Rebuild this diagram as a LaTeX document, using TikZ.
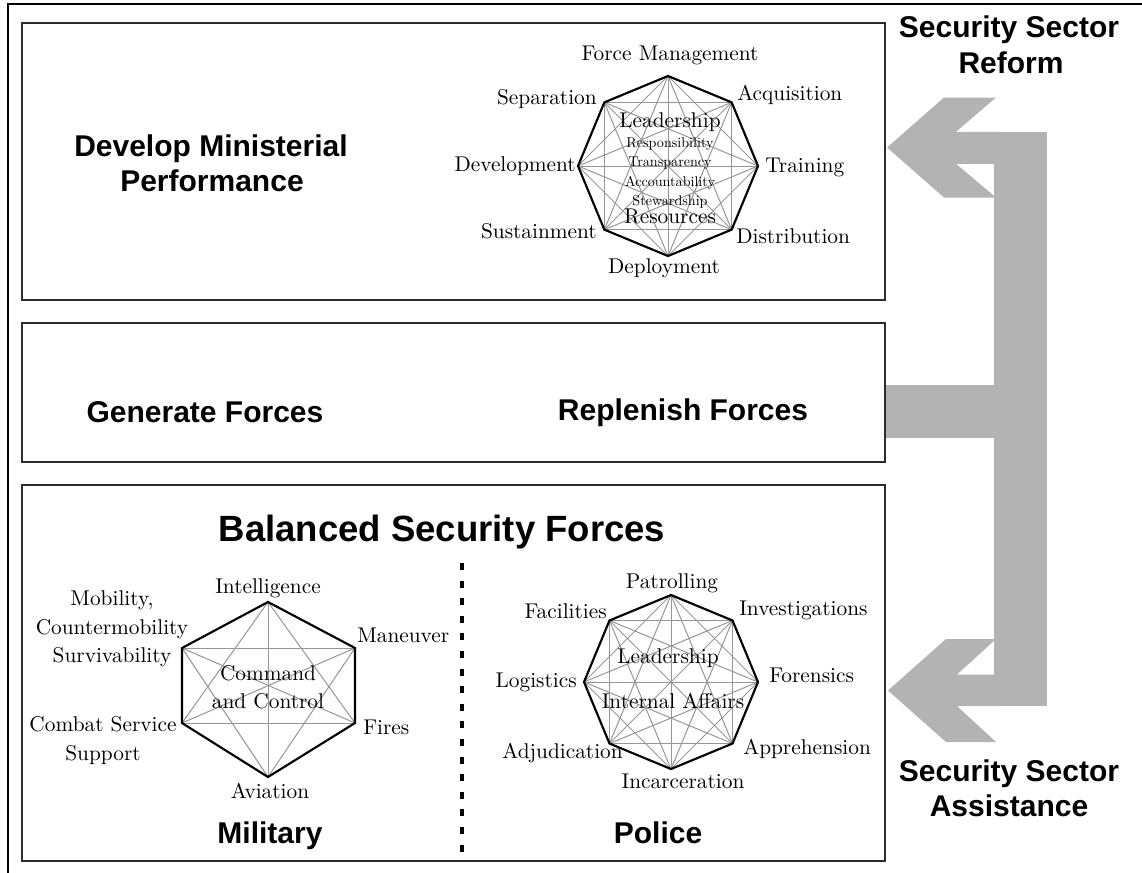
\documentclass[tikz,border=0pt]{standalone}
\usepackage{fontspec}
\setmainfont{lmroman10-regular.otf}[BoldFont=lmroman10-bold.otf, ItalicFont=lmroman10-italic.otf]
\newfontfamily\hsans{Liberation Sans}
\usetikzlibrary{calc}
\definecolor{arrowgray}{RGB}{179,179,179}
\definecolor{diaggray}{RGB}{150,150,150}
\definecolor{boxgray}{RGB}{45,45,45}
\begin{document}
\begin{tikzpicture}[x=0.75pt,y=-0.75pt,
  hd/.style={font=\hsans\bfseries\fontsize{22.5}{26}\selectfont, inner sep=0pt, text height=0.72em, text depth=0em},
  bighd/.style={font=\hsans\bfseries\fontsize{27.4}{30}\selectfont, inner sep=0pt, text height=0.72em, text depth=0em},
  lab/.style={font=\fontsize{16}{18}\selectfont, inner sep=0pt, text height=0.66em, text depth=0em},
  sml/.style={font=\fontsize{10.6}{12}\selectfont, inner sep=0pt, text height=0.66em, text depth=0em},
  box/.style={draw=boxgray, line width=1.1pt},
  frame/.style={draw=black, line width=1.9pt},
  outline/.style={draw=black, line width=1.6pt, line join=miter},
  diag/.style={draw=diaggray, line width=0.75pt},
  sep/.style={draw=black, line width=2.8pt, dash pattern=on 5.2pt off 8pt},
  arrowfill/.style={fill=arrowgray}
]
\useasboundingbox (0,0) rectangle (1142,872);
% outer frame (clipped at right and bottom)
\draw[frame] (8,4) rectangle (1160,890);

% ---------------- big grey arrow ----------------
\fill[arrowfill] (994,132) rectangle (1047,706);
\fill[arrowfill] (885,385) rectangle (996,438);
\fill[arrowfill] (887,147.5) -- (944,97.5) -- (996,97.5) -- (956,131.8) -- (1000,131.8)
   -- (1000,163.8) -- (956,163.8) -- (996,197.5) -- (944,197.5) -- cycle;
\fill[arrowfill] (888,690.5) -- (946,639) -- (996,639) -- (957,674.5) -- (1000,674.5)
   -- (1000,706) -- (957,706) -- (996,742) -- (946,742) -- cycle;

% ---------------- boxes ----------------
\draw[box] (22,23) rectangle (885,300);
\draw[box] (22,323) rectangle (885,462);
\draw[box] (22,485) rectangle (885,861);

% ---------------- headings ----------------
\node[hd] (dmp1) at (211,152) {Develop Ministerial};
\node[hd] (dmp2) at (212,187) {Performance};
\node[hd] (gen) at (205,418) {Generate Forces};
\node[hd] (rep) at (683,416) {Replenish Forces};
\node[bighd] (bsf) at (442,537) {Balanced Security Forces};
\node[hd] (mil) at (270,839) {Military};
\node[hd] (pol) at (658,839) {Police};
\node[hd] (ssr1) at (1009,33) {Security Sector};
\node[hd] (ssr2) at (1011,69) {Reform};
\node[hd] (ssa1) at (1009,777) {Security Sector};
\node[hd] (ssa2) at (1009,812) {Assistance};

% separator
\draw[sep] (462,563) -- (462,852);

% ---------------- ministerial octagon ----------------
\foreach \i in {0,...,7}{\coordinate (M\i) at ($(668,166)+({90+45*\i}:90)$);}
\foreach \i in {0,...,7}{\foreach \j in {0,...,7}{\ifnum\j>\i \draw[diag] (M\i) -- (M\j);\fi}}
\draw[outline] (M0) -- (M1) -- (M2) -- (M3) -- (M4) -- (M5) -- (M6) -- (M7) -- cycle;
\node[lab] (fm) at (670,56) {Force Management};
\node[lab, anchor=west] (acq) at (737,96) {Acquisition};
\node[lab, anchor=west] (trn) at (765,168) {Training};
\node[lab, anchor=west] (dis) at (736,239) {Distribution};
\node[lab] (dep) at (664,269) {Deployment};
\node[lab, anchor=east] (sus) at (597,234) {Sustainment};
\node[lab, anchor=east] (dev) at (576,167) {Development};
\node[lab, anchor=east] (sepn) at (597,100) {Separation};
\node[lab] (lead) at (670,123) {Leadership};
\node[sml] (resp) at (670,143) {Responsibility};
\node[sml] (trans) at (670,162) {Transparency};
\node[sml] (acc) at (670,182) {Accountability};
\node[sml] (stew) at (670,201) {Stewardship};
\node[lab] (res) at (670,219) {Resources};

% ---------------- military hexagon ----------------
\coordinate (H0) at (268,602);
\coordinate (H1) at (355,648);
\coordinate (H2) at (355,723);
\coordinate (H3) at (268,777);
\coordinate (H4) at (182,723);
\coordinate (H5) at (182,648);
\foreach \i in {0,...,5}{\foreach \j in {0,...,5}{\ifnum\j>\i \draw[diag] (H\i) -- (H\j);\fi}}
\draw[outline] (H0) -- (H1) -- (H2) -- (H3) -- (H4) -- (H5) -- cycle;
\node[lab] (intel) at (268,589) {Intelligence};
\node[lab, anchor=west] (man) at (357,638) {Maneuver};
\node[lab, anchor=west] (fir) at (363,730) {Fires};
\node[lab] (avi) at (270,794) {Aviation};
\node[lab] (css1) at (103,727) {Combat Service};
\node[lab] (css2) at (103,756) {Support};
\node[lab] (mob1) at (112,601) {Mobility,};
\node[lab] (mob2) at (112,630) {Countermobility};
\node[lab] (mob3) at (112,658) {Survivability};
\node[lab] (cc1) at (268,676) {Command};
\node[lab] (cc2) at (268,704) {and Control};

% ---------------- police octagon ----------------
\foreach \i in {0,...,7}{\coordinate (P\i) at ($(671,682)+({90+45*\i}:87)$);}
\foreach \i in {0,...,7}{\foreach \j in {0,...,7}{\ifnum\j>\i \draw[diag] (P\i) -- (P\j);\fi}}
\draw[outline] (P0) -- (P1) -- (P2) -- (P3) -- (P4) -- (P5) -- (P6) -- (P7) -- cycle;
\node[lab] (pat) at (672,584) {Patrolling};
\node[lab, anchor=west] (inv) at (739,611) {Investigations};
\node[lab, anchor=west] (for) at (769,678) {Forensics};
\node[lab, anchor=west] (app) at (743,750) {Apprehension};
\node[lab] (inc) at (683,784) {Incarceration};
\node[lab, anchor=east] (adj) at (623,754) {Adjudication};
\node[lab, anchor=east] (log) at (577,683) {Logistics};
\node[lab, anchor=east] (fac) at (607,614) {Facilities};
\node[lab] (plead) at (668,659) {Leadership};
\node[lab] (ia) at (673,704) {Internal Affairs};
\end{tikzpicture}
\end{document}
